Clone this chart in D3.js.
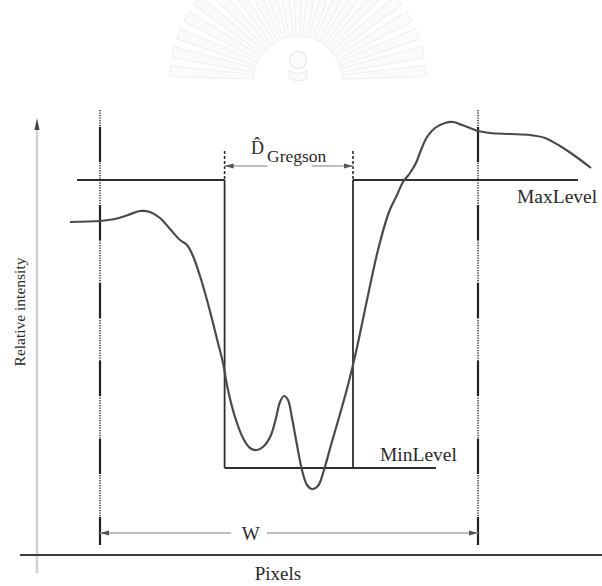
<!DOCTYPE html>
<html>
<head>
<meta charset="utf-8">
<script src="https://cdn.jsdelivr.net/npm/d3@7"></script>
<style>
  html, body { margin: 0; padding: 0; background: #fff; }
  svg { display: block; }
  text { font-family: "Liberation Serif", "DejaVu Serif", serif; fill: #2a2a2a; }
</style>
</head>
<body>
<svg id="chart" width="602" height="586"></svg>
<script>
// Intensity profile across an edge (pixel position, relative intensity)
const profilePixels = [8.25, 15.75, 19.5, 22.75, 25.75, 28.25, 30.75, 33.25, 35.75, 37.5, 39, 40.75, 42.5, 44,
  45.25, 46.5, 47.75, 49.5, 51.5, 53.25, 55, 56.75, 58.5, 59.75, 60.75, 61.75, 62.75, 63.75, 65, 66.25,
  67.5, 68.75, 70.25, 71.75, 73.5, 75.75, 77.75, 79.75, 82.5, 85.25, 88, 90, 91.5, 93.25, 94.75, 96,
  97.5, 99.5, 102, 104, 106.25, 108.25, 110.25, 113.25, 118.25, 123.25, 127, 130.75, 134.5, 138.5];
const profileIntensity = [83.25, 83.5, 84, 85, 86, 85.75, 84.25, 81.5, 78.75, 77.5, 74.75, 69.75, 63.75, 58,
  53, 48, 41.25, 34.5, 29.25, 26.75, 26.25, 27.25, 30, 34.25, 38.25, 39.75, 38.75, 34.25, 27.5, 21.25,
  17.5, 16.5, 17.25, 21.25, 27.5, 35.25, 42.5, 50.75, 63.75, 76.25, 85.75, 90, 93.25, 95.5, 98, 101.25,
  104.5, 106.75, 108, 108.25, 107.5, 106.75, 106, 105.5, 105.25, 105, 104.25, 102.25, 99.75, 96.75];

// Threshold levels and their drawn extents (pixel units)
const maxLevel = 93.75;
const minLevel = 21.75;
const maxLevelSpans = [[10, 46.9], [79, 135.25]];
const minLevelSpan = [46.9, 99.75];

// Gregson width bounds and the window W
const gregsonBounds = [46.9, 79];
const windowBounds = [15.75, 110.25];
const windowTop = 111.25, windowBottom = 2.5;
const gregsonArrowLevel = 97.25, gregsonTickTop = 101;
const windowArrowLevel = 5.5;

// Labels
const labels = { x: "Pixels", y: "Relative intensity", max: "MaxLevel", min: "MinLevel", w: "W", d: "D\u0302", sub: "Gregson" };

const svg = d3.select("#chart");
const x = d3.scaleLinear().domain([0, 140]).range([37, 597]);
const y = d3.scaleLinear().domain([0, 100]).range([555, 155]);

// faint seal at the top of the page
const seal = svg.append("g").attr("transform", "translate(298,80)");
const rayAngles = d3.range(-176, -3, 8.6);
rayAngles.forEach(a => {
  const r = a * Math.PI / 180;
  const r0 = 44, r1 = 128;
  const w0 = 2.2, w1 = 5.5;
  const px = -Math.sin(r), py = Math.cos(r);
  const cx0 = Math.cos(r) * r0, cy0 = Math.sin(r) * r0;
  const cx1 = Math.cos(r) * r1, cy1 = Math.sin(r) * r1;
  seal.append("path")
    .attr("d", `M${cx0 + px * w0},${cy0 + py * w0} L${cx1 + px * w1},${cy1 + py * w1} L${cx1 - px * w1},${cy1 - py * w1} L${cx0 - px * w0},${cy0 - py * w0}Z`)
    .attr("fill", "#fbfbfb").attr("stroke", "#efefef").attr("stroke-width", 1.1);
});
seal.append("circle").attr("cx", 0).attr("cy", -20).attr("r", 8.5)
  .attr("fill", "#fbfbfb").attr("stroke", "#ebebeb").attr("stroke-width", 1.4);
seal.append("path").attr("d", "M-9,-9 Q0,-4 9,-9 L8,-1 Q0,2 -8,-1Z")
  .attr("fill", "#fbfbfb").attr("stroke", "#ebebeb").attr("stroke-width", 1.2);

const line = d3.line().x(d => x(d[0])).y(d => y(d[1]));

// y axis (light) with small arrow head
svg.append("line").attr("x1", x(0)).attr("x2", x(0)).attr("y1", 573).attr("y2", 126)
  .attr("stroke", "#d2d2d2").attr("stroke-width", 2.6);
svg.append("path").attr("d", `M${x(0)},118 L${x(0) - 2.5},130 L${x(0) + 2.5},130Z`).attr("fill", "#444");

// x axis
svg.append("line").attr("x1", 20).attr("x2", 602).attr("y1", y(0)).attr("y2", y(0))
  .attr("stroke", "#3a3a3a").attr("stroke-width", 2);

// window markers: dotted line with long solid dashes
windowBounds.forEach(b => {
  const seg = [[b, windowTop], [b, windowBottom]];
  svg.append("path").attr("d", line(seg)).attr("stroke", "#3a3a3a").attr("stroke-width", 1.6)
    .attr("stroke-dasharray", "1.2 1.3").attr("fill", "none");
  svg.append("path").attr("d", line(seg)).attr("stroke", "#222").attr("stroke-width", 2.2)
    .attr("stroke-dasharray", "35 43").attr("stroke-dashoffset", 61).attr("fill", "none");
});

// level lines
maxLevelSpans.forEach(s => {
  svg.append("path").attr("d", line([[s[0], maxLevel], [s[1], maxLevel]]))
    .attr("stroke", "#2e2e2e").attr("stroke-width", 2).attr("fill", "none");
});
svg.append("path").attr("d", line([[minLevelSpan[0], minLevel], [minLevelSpan[1], minLevel]]))
  .attr("stroke", "#2e2e2e").attr("stroke-width", 2).attr("fill", "none");

// Gregson bounds
gregsonBounds.forEach(b => {
  svg.append("path").attr("d", line([[b, maxLevel], [b, minLevel]]))
    .attr("stroke", "#2e2e2e").attr("stroke-width", 1.8).attr("fill", "none");
  svg.append("path").attr("d", line([[b, gregsonTickTop], [b, maxLevel]]))
    .attr("stroke", "#2e2e2e").attr("stroke-width", 1.6).attr("stroke-dasharray", "3 2").attr("fill", "none");
});

// intensity profile
svg.append("path")
  .datum(d3.zip(profilePixels, profileIntensity))
  .attr("d", d3.line().curve(d3.curveCatmullRom.alpha(0.5)).x(d => x(d[0])).y(d => y(d[1])))
  .attr("fill", "none").attr("stroke", "#4a4a4a").attr("stroke-width", 2.2);

// dimension arrows
function arrow(from, to, level) {
  const yy = y(level), x1 = x(from), x2 = x(to);
  svg.append("line").attr("x1", x1).attr("x2", x2).attr("y1", yy).attr("y2", yy)
    .attr("stroke", "#a8a8a8").attr("stroke-width", 1.3);
  const dir = Math.sign(x2 - x1);
  svg.append("path").attr("d", `M${x2},${yy} L${x2 - dir * 9},${yy - 2.6} L${x2 - dir * 9},${yy + 2.6}Z`)
    .attr("fill", "#555");
}
arrow(57.6, gregsonBounds[0], gregsonArrowLevel);
arrow(68.7, gregsonBounds[1], gregsonArrowLevel);
arrow(48.5, windowBounds[0], windowArrowLevel);
arrow(57.5, windowBounds[1], windowArrowLevel);

// labels
svg.append("text").attr("x", 278).attr("y", 580).attr("text-anchor", "middle")
  .attr("font-size", 19).text(labels.x);
svg.append("text").attr("transform", `translate(25,312) rotate(-90)`).attr("text-anchor", "middle")
  .attr("font-size", 15.5).text(labels.y);
svg.append("text").attr("x", 517).attr("y", 203).attr("font-size", 19.5).text(labels.max);
svg.append("text").attr("x", 380).attr("y", 461).attr("font-size", 19.5).text(labels.min);
svg.append("text").attr("x", x((windowBounds[0] + windowBounds[1]) / 2 - 9.6)).attr("y", y(windowArrowLevel) + 6.5)
  .attr("text-anchor", "middle").attr("font-size", 19).text(labels.w);
svg.append("text").attr("x", 251).attr("y", 154).attr("font-size", 18).text(labels.d);
svg.append("text").attr("x", 267).attr("y", 162).attr("font-size", 17.5).text(labels.sub);
</script>
</body>
</html>
